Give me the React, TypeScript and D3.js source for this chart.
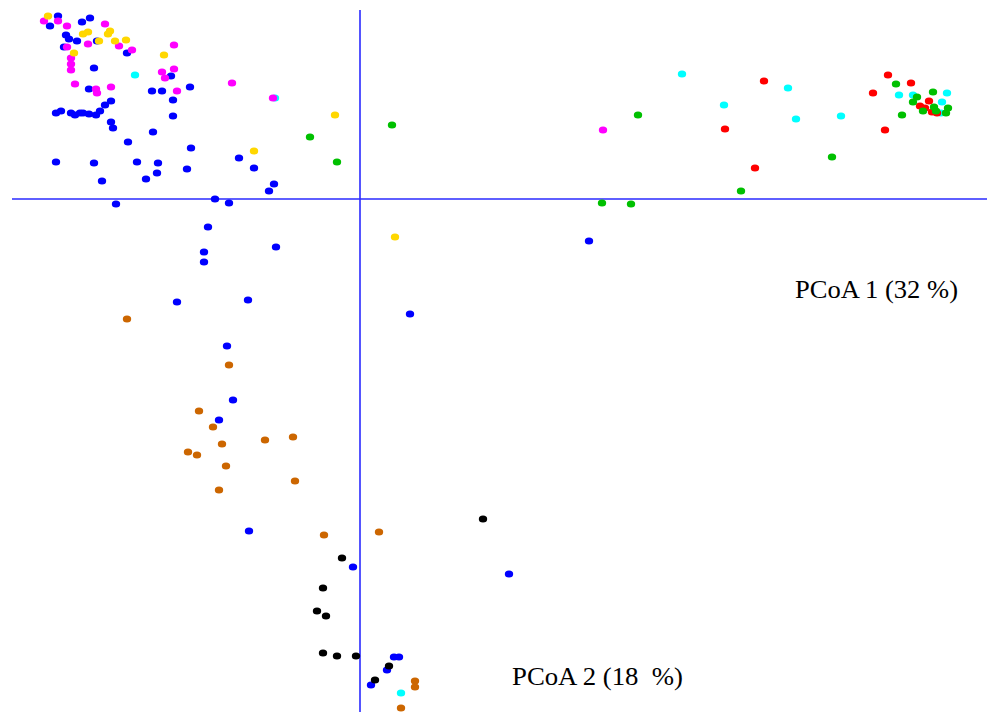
import React from "react";
import * as d3 from "d3";

type P = [number, number];

const blue: P[] = [
  [-3.02, 1.83], [-3.10, 1.73], [-2.78, 1.77], [-2.70, 1.81], [-2.94, 1.64], [-2.91, 1.60],
  [-2.83, 1.58], [-2.63, 1.58], [-2.33, 1.46], [-2.96, 1.52], [-2.66, 1.31], [-1.89, 1.23],
  [-2.71, 1.10], [-2.08, 1.08], [-1.98, 1.08], [-1.70, 1.12], [-1.87, 0.99], [-2.49, 0.98],
  [-2.55, 0.94], [-3.04, 0.86], [-2.99, 0.88], [-2.89, 0.86], [-2.85, 0.84], [-2.80, 0.86],
  [-2.77, 0.86], [-2.71, 0.85], [-2.64, 0.84], [-2.60, 0.88], [-2.49, 0.77], [-2.47, 0.71],
  [-1.87, 0.83], [-2.07, 0.67], [-2.32, 0.57], [-1.69, 0.51], [-3.04, 0.37], [-2.66, 0.36],
  [-2.23, 0.37], [-2.02, 0.36], [-2.03, 0.26], [-2.14, 0.20], [-2.58, 0.18], [-1.73, 0.30],
  [-2.44, -0.05], [-1.21, 0.41], [-1.06, 0.31], [-0.86, 0.15], [-0.91, 0.08], [-1.45, 0.00],
  [-1.31, -0.04], [-1.52, -0.28], [-0.84, -0.48], [-1.56, -0.53], [-1.56, -0.63], [-1.83, -1.03],
  [-1.12, -1.01], [0.50, -1.15], [-1.33, -1.47], [-1.27, -2.01], [-1.41, -2.21], [-1.11, -3.32],
  [-0.07, -3.68], [1.49, -3.75], [0.34, -4.58], [0.39, -4.58], [0.27, -4.71], [0.11, -4.86],
  [2.29, -0.42],
];

const cyan: P[] = [
  [-2.25, 1.24], [-0.85, 1.01], [3.22, 1.25], [3.64, 0.94], [4.28, 1.11], [4.36, 0.80],
  [4.81, 0.83], [5.39, 1.04], [5.53, 1.04], [5.87, 1.06], [5.82, 0.97], [5.81, 0.86],
  [0.41, -4.94],
];

const magenta: P[] = [
  [-3.16, 1.78], [-3.02, 1.78], [-2.93, 1.73], [-2.55, 1.75], [-2.72, 1.55], [-2.41, 1.53],
  [-2.28, 1.49], [-2.93, 1.52], [-1.86, 1.54], [-2.89, 1.41], [-2.89, 1.35], [-2.89, 1.29],
  [-1.98, 1.27], [-1.95, 1.21], [-1.86, 1.30], [-2.85, 1.15], [-2.64, 1.10], [-2.63, 1.06],
  [-2.49, 1.12], [-1.83, 1.08], [-1.28, 1.16], [-0.87, 1.01], [2.43, 0.69],
];

const yellow: P[] = [
  [-3.12, 1.83], [-2.77, 1.65], [-2.72, 1.67], [-2.50, 1.68], [-2.52, 1.65], [-2.61, 1.58],
  [-2.45, 1.58], [-2.34, 1.59], [-2.86, 1.46], [-1.96, 1.44], [-0.25, 0.84], [-1.06, 0.48],
  [0.35, -0.38],
];

const orange: P[] = [
  [-2.33, -1.20], [-1.31, -1.66], [-1.61, -2.12], [-1.47, -2.28], [-0.95, -2.41], [-0.67, -2.38],
  [-1.38, -2.45], [-1.72, -2.53], [-1.63, -2.56], [-1.34, -2.67], [-0.65, -2.82], [-1.41, -2.91],
  [-0.36, -3.36], [0.19, -3.33], [0.55, -4.82], [0.55, -4.88], [0.41, -5.09],
];

const black: P[] = [
  [1.23, -3.20], [-0.18, -3.59], [-0.37, -3.89], [-0.43, -4.12], [-0.34, -4.17], [-0.37, -4.54],
  [-0.23, -4.57], [-0.04, -4.57], [0.29, -4.67], [0.15, -4.81],
];

const red: P[] = [
  [4.04, 1.18], [3.65, 0.70], [3.95, 0.31], [5.28, 1.24], [5.13, 1.06], [5.51, 1.16],
  [5.69, 0.98], [5.60, 0.93], [5.65, 0.91], [5.72, 0.87], [5.77, 0.86], [5.25, 0.69],
];

const green: P[] = [
  [-0.50, 0.62], [-0.23, 0.37], [0.32, 0.74], [2.78, 0.84], [2.42, -0.04], [2.71, -0.05],
  [3.81, 0.08], [4.72, 0.42], [5.36, 1.15], [5.57, 1.02], [5.53, 0.97], [5.73, 1.07],
  [5.74, 0.92], [5.76, 0.88], [5.63, 0.88], [5.88, 0.91], [5.86, 0.86], [5.42, 0.84],
];

const groups: { name: string; color: string; points: P[] }[] = [
  { name: "blue", color: "#0000ff", points: blue },
  { name: "cyan", color: "#00ffff", points: cyan },
  { name: "magenta", color: "#ff00ff", points: magenta },
  { name: "yellow", color: "#ffd700", points: yellow },
  { name: "orange", color: "#cc6600", points: orange },
  { name: "black", color: "#000000", points: black },
  { name: "red", color: "#ff0000", points: red },
  { name: "green", color: "#00c000", points: green },
];

const axisLabels = ["PCoA 1 (32 %)", "PCoA 2 (18  %)"];

const W = 987;
const H = 712;

export default function App() {
  const x = d3.scaleLinear().domain([-3.48, 6.27]).range([12, 987]);
  const y = d3.scaleLinear().domain([1.89, -5.13]).range([10, 712]);
  const axisColor = "#2a2aff";
  const font = "'Liberation Serif', 'Times New Roman', serif";
  return (
    <svg
      width={W}
      height={H}
      style={{ position: "fixed", left: 0, top: 0, background: "#fff" }}
    >
      <rect x={0} y={0} width={W} height={H} fill="#fff" />
      <line x1={x(-3.48)} x2={x(6.27)} y1={y(0)} y2={y(0)} stroke={axisColor} strokeWidth={1.6} />
      <line x1={x(0)} x2={x(0)} y1={y(1.89)} y2={y(-5.13)} stroke={axisColor} strokeWidth={1.6} />
      {groups.map((g) => (
        <g key={g.name} fill={g.color}>
          {g.points.map((p, i) => (
            <ellipse key={i} cx={x(p[0])} cy={y(p[1])} rx={4.2} ry={3.6} />
          ))}
        </g>
      ))}
      <text
        x={795}
        y={298}
        fontFamily={font}
        fontSize={25}
        fill="#000"
        textLength={163}
        lengthAdjust="spacingAndGlyphs"
        style={{ whiteSpace: "pre" }}
      >
        {axisLabels[0]}
      </text>
      <text
        x={512}
        y={685}
        fontFamily={font}
        fontSize={25}
        fill="#000"
        textLength={171}
        lengthAdjust="spacingAndGlyphs"
        xmlSpace="preserve"
        style={{ whiteSpace: "pre" }}
      >
        {axisLabels[1]}
      </text>
    </svg>
  );
}
